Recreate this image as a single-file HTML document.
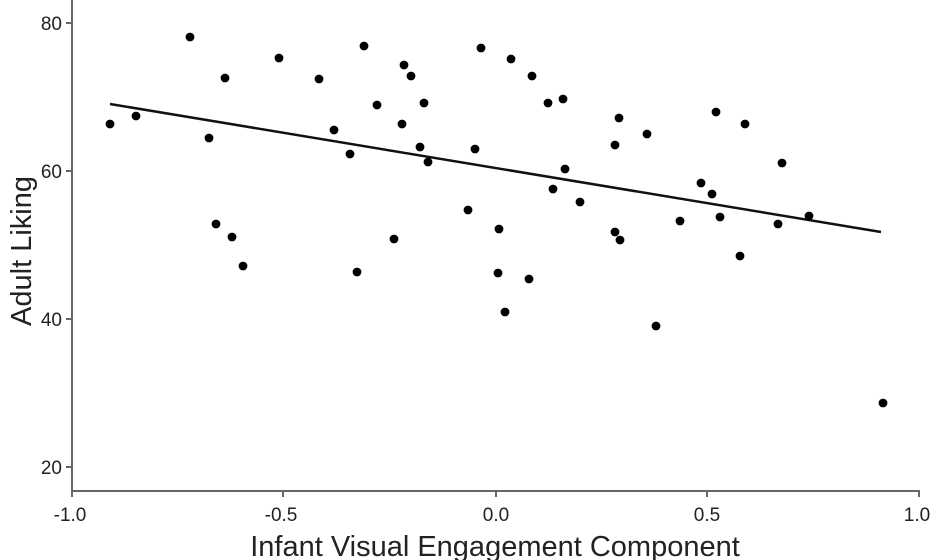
<!DOCTYPE html>
<html><head><meta charset="utf-8"><style>
html,body{margin:0;padding:0;background:#fff;}
svg{display:block;}
text{font-family:"Liberation Sans",Arial,sans-serif;fill:#222;}
</style></head><body>
<svg width="936" height="560" viewBox="0 0 936 560" xmlns="http://www.w3.org/2000/svg">
<g stroke="#666" stroke-width="2" fill="none">
<line x1="72" y1="0" x2="72" y2="492"/>
<line x1="71" y1="491" x2="920" y2="491"/>
<line x1="66" y1="23" x2="72" y2="23"/>
<line x1="66" y1="171" x2="72" y2="171"/>
<line x1="66" y1="319" x2="72" y2="319"/>
<line x1="66" y1="467" x2="72" y2="467"/>
<line x1="72" y1="491" x2="72" y2="497"/>
<line x1="283" y1="491" x2="283" y2="497"/>
<line x1="496" y1="491" x2="496" y2="497"/>
<line x1="707" y1="491" x2="707" y2="497"/>
<line x1="919" y1="491" x2="919" y2="497"/>
</g>
<g font-size="19" text-anchor="end">
<text x="62" y="30">80</text>
<text x="62" y="178">60</text>
<text x="62" y="326">40</text>
<text x="62" y="474">20</text>
</g>
<g font-size="19" text-anchor="middle">
<text x="70" y="521">-1.0</text>
<text x="281" y="521">-0.5</text>
<text x="496" y="521">0.0</text>
<text x="707" y="521">0.5</text>
<text x="917" y="521">1.0</text>
</g>
<text x="495" y="556" font-size="29" text-anchor="middle">Infant Visual Engagement Component</text>
<text transform="translate(31,251) rotate(-90)" font-size="29" text-anchor="middle">Adult Liking</text>
<line x1="110" y1="104" x2="881" y2="232" stroke="#111" stroke-width="2.5"/>
<g fill="#000">
<circle cx="190" cy="37" r="4.4"/><circle cx="279" cy="58" r="4.4"/><circle cx="364" cy="46" r="4.4"/>
<circle cx="404" cy="65" r="4.4"/><circle cx="411" cy="76" r="4.4"/><circle cx="225" cy="78" r="4.4"/>
<circle cx="319" cy="79" r="4.4"/><circle cx="377" cy="105" r="4.4"/><circle cx="110" cy="124" r="4.4"/>
<circle cx="136" cy="116" r="4.4"/><circle cx="402" cy="124" r="4.4"/><circle cx="209" cy="138" r="4.4"/>
<circle cx="334" cy="130" r="4.4"/><circle cx="350" cy="154" r="4.4"/><circle cx="216" cy="224" r="4.4"/>
<circle cx="232" cy="237" r="4.4"/><circle cx="394" cy="239" r="4.4"/><circle cx="243" cy="266" r="4.4"/>
<circle cx="357" cy="272" r="4.4"/>
<circle cx="481" cy="48" r="4.4"/><circle cx="511" cy="59" r="4.4"/><circle cx="532" cy="76" r="4.4"/>
<circle cx="424" cy="103" r="4.4"/><circle cx="548" cy="103" r="4.4"/><circle cx="563" cy="99" r="4.4"/>
<circle cx="420" cy="147" r="4.4"/><circle cx="475" cy="149" r="4.4"/><circle cx="428" cy="162" r="4.4"/>
<circle cx="565" cy="169" r="4.4"/><circle cx="553" cy="189" r="4.4"/><circle cx="580" cy="202" r="4.4"/>
<circle cx="468" cy="210" r="4.4"/><circle cx="499" cy="229" r="4.4"/><circle cx="498" cy="273" r="4.4"/>
<circle cx="529" cy="279" r="4.4"/><circle cx="505" cy="312" r="4.4"/>
<circle cx="619" cy="118" r="4.4"/><circle cx="716" cy="112" r="4.4"/><circle cx="745" cy="124" r="4.4"/>
<circle cx="647" cy="134" r="4.4"/><circle cx="615" cy="145" r="4.4"/><circle cx="782" cy="163" r="4.4"/>
<circle cx="701" cy="183" r="4.4"/><circle cx="712" cy="194" r="4.4"/><circle cx="680" cy="221" r="4.4"/>
<circle cx="720" cy="217" r="4.4"/><circle cx="778" cy="224" r="4.4"/><circle cx="809" cy="216" r="4.4"/>
<circle cx="615" cy="232" r="4.4"/><circle cx="620" cy="240" r="4.4"/><circle cx="740" cy="256" r="4.4"/>
<circle cx="656" cy="326" r="4.4"/><circle cx="883" cy="403" r="4.4"/>
</g>
</svg>
</body></html>
